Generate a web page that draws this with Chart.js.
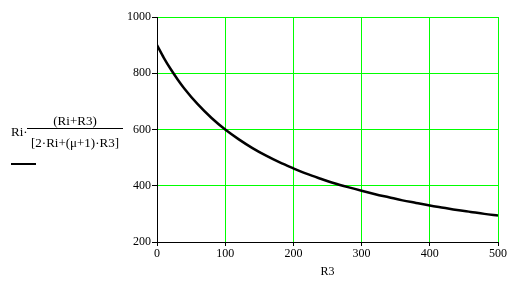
<!DOCTYPE html>
<html>
<head>
<meta charset="utf-8">
<script src="https://cdn.jsdelivr.net/npm/chart.js@4"></script>
<style>
  html, body { margin: 0; padding: 0; background: #fff; }
  #wrap { position: relative; width: 517px; height: 283px; }
  canvas { position: absolute; left: 0; top: 0; }
  .t { position: absolute; font-family: "Liberation Serif", "Times New Roman", serif; font-size: 13px; color: #000; white-space: nowrap; line-height: 1; }
</style>
</head>
<body>
<div id="wrap">
  <canvas id="c" width="517" height="283"></canvas>
  <div class="t" style="left:11px; top:125px;">Ri·</div>
  <div class="t" style="left:27px; top:114px; width:96px; text-align:center;">(Ri+R3)</div>
  <div style="position:absolute; left:27px; top:128px; width:96px; height:1px; background:#000;"></div>
  <div class="t" style="left:27px; top:136px; width:96px; text-align:center;">[2·Ri+(μ+1)·R3]</div>
  <div style="position:absolute; left:11px; top:163px; width:25px; height:2px; background:#000;"></div>
</div>
<script>
const r3Values = [0, 10, 20, 30, 40, 60, 80, 100, 120, 140, 160, 180, 200, 220, 240, 260, 280, 300, 320, 340, 360, 380, 400, 420, 440, 460, 480, 500];
const seriesValues = [900, 855, 815, 779, 746, 689, 641, 600, 565, 534, 507, 483, 462, 442, 425, 409, 395, 382, 370, 359, 348, 339, 330, 322, 314, 307, 300, 294];
const xTicks = [0, 100, 200, 300, 400, 500];
const yTicks = [200, 400, 600, 800, 1000];

const points = r3Values.map((x, i) => ({ x: x, y: seriesValues[i] }));
const GREEN = '#00ff00';
const serif = '"Liberation Serif", "Times New Roman", serif';

new Chart(document.getElementById('c'), {
  type: 'line',
  data: {
    datasets: [{
      data: points,
      borderColor: '#000',
      borderWidth: 2.5,
      pointRadius: 0,
      fill: false,
      cubicInterpolationMode: 'monotone'
    }]
  },
  options: {
    responsive: false,
    animation: false,
    events: [],
    layout: { padding: { left: 0, right: 19, top: 17, bottom: 0 } },
    plugins: { legend: { display: false }, tooltip: { enabled: false } },
    scales: {
      x: {
        type: 'linear',
        min: 0, max: 500,
        afterBuildTicks: s => { s.ticks = xTicks.map(v => ({ value: v })); },
        afterFit: s => { s.height = 41; },
        grid: {
          color: c => (c.tick && c.tick.value === 0) ? 'rgba(0,0,0,0)' : GREEN,
          lineWidth: 1,
          tickColor: '#000',
          tickLength: 4,
          drawTicks: true
        },
        border: { color: '#000', width: 1 },
        ticks: { color: '#000', font: { family: serif, size: 12 }, padding: 1, maxRotation: 0, callback: v => String(v) },
        title: { display: true, text: 'R3', color: '#000', font: { family: serif, size: 12 }, padding: { top: 0, bottom: 4 } }
      },
      y: {
        type: 'linear',
        min: 200, max: 1000,
        afterBuildTicks: s => { s.ticks = yTicks.map(v => ({ value: v })); },
        afterFit: s => { s.width = 157; },
        grid: {
          color: c => (c.tick && c.tick.value === 200) ? 'rgba(0,0,0,0)' : GREEN,
          lineWidth: 1,
          tickColor: '#000',
          tickLength: 5,
          drawTicks: true
        },
        border: { color: '#000', width: 1 },
        ticks: { color: '#000', font: { family: serif, size: 12 }, padding: 1, callback: v => String(v) }
      }
    }
  }
});
</script>
</body>
</html>
